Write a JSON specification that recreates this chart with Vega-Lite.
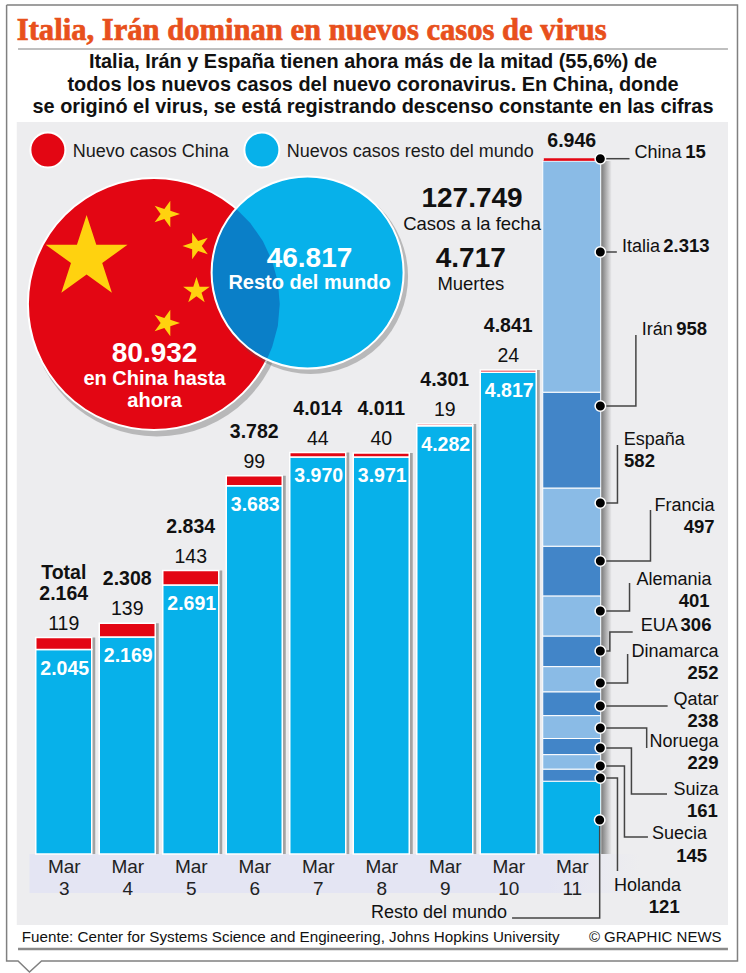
{
"$schema":"https://vega.github.io/schema/vega-lite/v6.json",
"autosize":{"type":"none"},
"width":571.5,"height":700,
"padding":{"left":32,"top":154,"right":142.5,"bottom":119},
"background":"white",
"config":{"view":{"stroke":null},"font":"Liberation Sans","text":{"baseline":"alphabetic"}},
"datasets":{
"barras":[
{"day":3,"serie":"Resto","grupo":"Resto","rank":0,"casos":2045},{"day":3,"serie":"China","grupo":"China","rank":1,"casos":119},
{"day":4,"serie":"Resto","grupo":"Resto","rank":0,"casos":2169},{"day":4,"serie":"China","grupo":"China","rank":1,"casos":139},
{"day":5,"serie":"Resto","grupo":"Resto","rank":0,"casos":2691},{"day":5,"serie":"China","grupo":"China","rank":1,"casos":143},
{"day":6,"serie":"Resto","grupo":"Resto","rank":0,"casos":3683},{"day":6,"serie":"China","grupo":"China","rank":1,"casos":99},
{"day":7,"serie":"Resto","grupo":"Resto","rank":0,"casos":3970},{"day":7,"serie":"China","grupo":"China","rank":1,"casos":44},
{"day":8,"serie":"Resto","grupo":"Resto","rank":0,"casos":3971},{"day":8,"serie":"China","grupo":"China","rank":1,"casos":40},
{"day":9,"serie":"Resto","grupo":"Resto","rank":0,"casos":4282},{"day":9,"serie":"China","grupo":"China","rank":1,"casos":19},
{"day":10,"serie":"Resto","grupo":"Resto","rank":0,"casos":4817},{"day":10,"serie":"China","grupo":"China","rank":1,"casos":24},
{"day":11,"serie":"Resto del mundo","grupo":"Resto","rank":0,"casos":728},
{"day":11,"serie":"Holanda","grupo":"Oscuro","rank":1,"casos":121},
{"day":11,"serie":"Suecia","grupo":"Claro","rank":2,"casos":145},
{"day":11,"serie":"Suiza","grupo":"Oscuro","rank":3,"casos":161},
{"day":11,"serie":"Noruega","grupo":"Claro","rank":4,"casos":229},
{"day":11,"serie":"Qatar","grupo":"Oscuro","rank":5,"casos":238},
{"day":11,"serie":"Dinamarca","grupo":"Claro","rank":6,"casos":252},
{"day":11,"serie":"EUA","grupo":"Oscuro","rank":7,"casos":306},
{"day":11,"serie":"Alemania","grupo":"Claro","rank":8,"casos":401},
{"day":11,"serie":"Francia","grupo":"Oscuro","rank":9,"casos":497},
{"day":11,"serie":"España","grupo":"Claro","rank":10,"casos":582},
{"day":11,"serie":"Irán","grupo":"Oscuro","rank":11,"casos":958},
{"day":11,"serie":"Italia","grupo":"Claro","rank":12,"casos":2313},
{"day":11,"serie":"China","grupo":"China","rank":13,"casos":15}
],
"dias":[
{"day":3,"china":119,"resto":2045,"total":2164,"chinaT":"119","restoT":"2.045","totalT":"2.164"},
{"day":4,"china":139,"resto":2169,"total":2308,"chinaT":"139","restoT":"2.169","totalT":"2.308"},
{"day":5,"china":143,"resto":2691,"total":2834,"chinaT":"143","restoT":"2.691","totalT":"2.834"},
{"day":6,"china":99,"resto":3683,"total":3782,"chinaT":"99","restoT":"3.683","totalT":"3.782"},
{"day":7,"china":44,"resto":3970,"total":4014,"chinaT":"44","restoT":"3.970","totalT":"4.014"},
{"day":8,"china":40,"resto":3971,"total":4011,"chinaT":"40","restoT":"3.971","totalT":"4.011"},
{"day":9,"china":19,"resto":4282,"total":4301,"chinaT":"19","restoT":"4.282","totalT":"4.301"},
{"day":10,"china":24,"resto":4817,"total":4841,"chinaT":"24","restoT":"4.817","totalT":"4.841"}
],
"conectores":[
{"pais":"China","seq":0,"day":11.46,"value":6953},{"pais":"China","seq":1,"day":11.91,"value":6953},
{"pais":"Italia","seq":0,"day":11.46,"value":6020},{"pais":"Italia","seq":1,"day":11.71,"value":6020},
{"pais":"Irán","seq":0,"day":11.46,"value":4480},{"pais":"Irán","seq":1,"day":12.01,"value":4480},{"pais":"Irán","seq":2,"day":12.01,"value":5190},
{"pais":"España","seq":0,"day":11.46,"value":3510},{"pais":"España","seq":1,"day":11.72,"value":3510},{"pais":"España","seq":2,"day":11.72,"value":4090},
{"pais":"Francia","seq":0,"day":11.46,"value":2930},{"pais":"Francia","seq":1,"day":12.24,"value":2930},{"pais":"Francia","seq":2,"day":12.24,"value":3440},
{"pais":"Alemania","seq":0,"day":11.46,"value":2430},{"pais":"Alemania","seq":1,"day":11.91,"value":2430},{"pais":"Alemania","seq":2,"day":11.91,"value":2710},
{"pais":"EUA","seq":0,"day":11.46,"value":2030},{"pais":"EUA","seq":1,"day":11.6,"value":2030},{"pais":"EUA","seq":2,"day":11.6,"value":2220},{"pais":"EUA","seq":3,"day":11.96,"value":2220},
{"pais":"Dinamarca","seq":0,"day":11.46,"value":1710},{"pais":"Dinamarca","seq":1,"day":11.88,"value":1710},{"pais":"Dinamarca","seq":2,"day":11.88,"value":2000},
{"pais":"Qatar","seq":0,"day":11.46,"value":1480},{"pais":"Qatar","seq":1,"day":12.51,"value":1480},
{"pais":"Noruega","seq":0,"day":11.46,"value":1260},{"pais":"Noruega","seq":1,"day":12.18,"value":1260},{"pais":"Noruega","seq":2,"day":12.18,"value":1060},
{"pais":"Suiza","seq":0,"day":11.46,"value":1060},{"pais":"Suiza","seq":1,"day":11.94,"value":1060},{"pais":"Suiza","seq":2,"day":11.94,"value":600},{"pais":"Suiza","seq":3,"day":12.5,"value":600},
{"pais":"Suecia","seq":0,"day":11.46,"value":880},{"pais":"Suecia","seq":1,"day":11.83,"value":880},{"pais":"Suecia","seq":2,"day":11.83,"value":170},{"pais":"Suecia","seq":3,"day":12.2,"value":170},
{"pais":"Holanda","seq":0,"day":11.46,"value":760},{"pais":"Holanda","seq":1,"day":11.72,"value":760},{"pais":"Holanda","seq":2,"day":11.72,"value":-170},
{"pais":"Resto","seq":0,"day":11.44,"value":340},{"pais":"Resto","seq":1,"day":11.44,"value":-640},{"pais":"Resto","seq":2,"day":10.06,"value":-640}
],
"puntos":[
{"pais":"China","day":11.45,"value":6953},{"pais":"Italia","day":11.45,"value":6020},{"pais":"Irán","day":11.45,"value":4480},{"pais":"España","day":11.45,"value":3510},{"pais":"Francia","day":11.45,"value":2930},{"pais":"Alemania","day":11.45,"value":2430},{"pais":"EUA","day":11.45,"value":2030},{"pais":"Dinamarca","day":11.45,"value":1710},{"pais":"Qatar","day":11.45,"value":1480},{"pais":"Noruega","day":11.45,"value":1260},{"pais":"Suiza","day":11.45,"value":1060},{"pais":"Suecia","day":11.45,"value":880},{"pais":"Holanda","day":11.45,"value":760},{"pais":"Resto","day":11.44,"value":340}
],
"nombres":[
{"t":"China","day":12.73,"value":6960},{"t":"Italia","day":12.39,"value":6020},{"t":"Irán","day":12.59,"value":5190},{"t":"España","day":12.78,"value":4090},{"t":"Francia","day":13.25,"value":3430},{"t":"Alemania","day":13.2,"value":2690},{"t":"EUA","day":12.67,"value":2230},{"t":"Dinamarca","day":13.31,"value":1970},{"t":"Qatar","day":13.31,"value":1490},{"t":"Noruega","day":13.31,"value":1070},{"t":"Suiza","day":13.31,"value":590},{"t":"Suecia","day":13.13,"value":150},{"t":"Holanda","day":12.72,"value":-370},{"t":"Resto del mundo","day":9.98,"value":-640}
],
"cifras":[
{"t":"15","day":13.11,"value":6960},{"t":"2.313","day":13.17,"value":6020},{"t":"958","day":13.13,"value":5190},{"t":"582","day":12.31,"value":3870},{"t":"497","day":13.25,"value":3210},{"t":"401","day":13.17,"value":2470},{"t":"306","day":13.2,"value":2230},{"t":"252","day":13.31,"value":1750},{"t":"238","day":13.31,"value":1270},{"t":"229","day":13.31,"value":850},{"t":"161","day":13.3,"value":370},{"t":"145","day":13.13,"value":-80},{"t":"121","day":12.7,"value":-590}
]
},
"encoding":{
"x":{"field":"day","type":"quantitative","title":null,"scale":{"domain":[2.5,11.5],"nice":false,"zero":false,"padding":0},
"axis":{"values":[3,4,5,6,7,8,9,10,11],"labelExpr":"['Mar', datum.value]","domain":false,"ticks":false,"grid":false,"labelFontSize":19,"labelColor":"#222","labelPadding":3,"labelLineHeight":22,"labelOverlap":false,"labelBound":false,"labelFlush":false,"zindex":1,"labelFont":"Liberation Sans"}},
"y":{"field":"value","type":"quantitative","title":null,"scale":{"domain":[0,7000],"nice":false,"zero":false,"padding":0},"axis":null}
},
"layer":[
{"data":{"values":[{"pieza":"panel","day":2.26,"day2":13.46,"value":7320,"value2":-710}]},"mark":{"type":"rect","color":"#ededef"},"encoding":{"x2":{"field":"day2"},"y2":{"field":"value2"}}},
{"data":{"values":[{"pieza":"banda","day":2.46,"day2":12.07,"value":0,"value2":-390}]},"mark":{"type":"rect","color":{"gradient":"linear","x1":0,"x2":1,"y1":0,"y2":0,"stops":[{"offset":0,"color":"#e4e5f3"},{"offset":0.85,"color":"#e4e5f3"},{"offset":1,"color":"#ededef"}]}},"encoding":{"x2":{"field":"day2"},"y2":{"field":"value2"}}},
{"data":{"values":[{"s":"marco","seq":0,"day":2.1,"value":8490},{"s":"marco","seq":1,"day":13.61,"value":8490},{"s":"marco","seq":2,"day":13.61,"value":-1070},{"s":"marco","seq":3,"day":2.65,"value":-1070},{"s":"marco","seq":4,"day":2.46,"value":-1180},{"s":"marco","seq":5,"day":2.28,"value":-1070},{"s":"marco","seq":6,"day":2.1,"value":-1070},{"s":"marco","seq":7,"day":2.1,"value":8490}]},"mark":{"type":"line","color":"#808080","strokeWidth":1.5},"encoding":{"order":{"field":"seq"}}},
{"data":{"values":[{"day":2.28,"day2":13.46,"value":8050}]},"mark":{"type":"rule","color":"#aaaaaa","strokeWidth":1.5},"encoding":{"x2":{"field":"day2"}}},
{"data":{"values":[{"day":2.28,"day2":13.46,"value":-950}]},"mark":{"type":"rule","color":"#8a8a8a","strokeWidth":2.5},"encoding":{"x2":{"field":"day2"}}},
{"data":{"values":[{"day":2.5},{"day":3.5},{"day":4.5},{"day":5.5},{"day":6.5},{"day":7.5},{"day":8.5},{"day":9.5},{"day":10.5}]},"mark":{"type":"rule","color":"#666666","strokeWidth":1},"encoding":{"y":{"datum":0,"type":"quantitative"},"y2":{"datum":-390}}},
{"data":{"name":"dias"},"mark":{"type":"bar","orient":"vertical","width":56,"color":"#a3a3a3","xOffset":3.5},"encoding":{"y":{"field":"total","type":"quantitative","axis":null,"title":null}}},
{"data":{"values":[{"day":11.46,"day2":11.63,"value":6930,"value2":0}]},"mark":{"type":"rect","color":{"gradient":"linear","x1":0,"x2":1,"y1":0,"y2":0,"stops":[{"offset":0,"color":"#777777"},{"offset":1,"color":"#ededef"}]}},"encoding":{"x2":{"field":"day2"},"y2":{"field":"value2"}}},
{"data":{"name":"barras"},"transform":[{"stack":"casos","groupby":["day"],"sort":[{"field":"rank","order":"ascending"}],"as":["v0","v1"]},{"filter":"datum.day<11"}],"mark":{"type":"bar","orient":"vertical","width":56,"stroke":"white","strokeWidth":1.5},"encoding":{"y":{"field":"v0","type":"quantitative","axis":null,"title":null},"y2":{"field":"v1"},"color":{"field":"grupo","type":"nominal","legend":null,"scale":{"domain":["China","Resto","Claro","Oscuro"],"range":["#e30613","#07b1ea","#8abbe6","#4285c8"]}}}},
{"data":{"name":"barras"},"transform":[{"stack":"casos","groupby":["day"],"sort":[{"field":"rank","order":"ascending"}],"as":["v0","v1"]},{"filter":"datum.day==11"}],"mark":{"type":"bar","orient":"vertical","width":58,"stroke":"white","strokeWidth":1},"encoding":{"y":{"field":"v0","type":"quantitative","axis":null,"title":null},"y2":{"field":"v1"},"color":{"field":"grupo","type":"nominal","legend":null,"scale":{"domain":["China","Resto","Claro","Oscuro"],"range":["#e30613","#07b1ea","#8abbe6","#4285c8"]}}}},
{"data":{"name":"barras"},"transform":[{"stack":"casos","groupby":["day"],"sort":[{"field":"rank","order":"ascending"}],"as":["v0","v1"]},{"filter":"datum.day==11 && datum.serie=='China'"}],"mark":{"type":"rule","color":"#e30613","strokeWidth":2.5},"encoding":{"x":{"datum":10.56,"type":"quantitative"},"x2":{"datum":11.44},"y":{"field":"v1","type":"quantitative","axis":null,"title":null}}},
{"data":{"values":[{"c":"rojo","day":4.42,"value":5500}]},"mark":{"type":"point","filled":true,"size":65000,"color":"#777777","opacity":0.45,"strokeWidth":0,"xOffset":3,"yOffset":5}},
{"data":{"values":[{"c":"rojo","day":4.42,"value":5500}]},"mark":{"type":"point","filled":true,"size":63504,"color":"#e30613","opacity":1,"stroke":"white","strokeWidth":2}},
{"data":{"values":[{"e":"grande","day":3.36,"value":5960}]},"mark":{"type":"point","filled":true,"opacity":1,"size":7400,"color":"#ffd20f","strokeWidth":0,"shape":"M0,-1L0.225,-0.309L0.951,-0.309L0.363,0.118L0.588,0.809L0,0.382L-0.588,0.809L-0.363,0.118L-0.951,-0.309L-0.225,-0.309Z"}},
{"data":{"values":[{"e":"a","day":4.61,"value":6400},{"e":"d","day":4.61,"value":5310}]},"mark":{"type":"point","filled":true,"opacity":1,"size":784,"angle":18,"color":"#ffd20f","strokeWidth":0,"shape":"M0,-1L0.225,-0.309L0.951,-0.309L0.363,0.118L0.588,0.809L0,0.382L-0.588,0.809L-0.363,0.118L-0.951,-0.309L-0.225,-0.309Z"}},
{"data":{"values":[{"e":"b","day":5.09,"value":6080}]},"mark":{"type":"point","filled":true,"opacity":1,"size":784,"angle":-18,"color":"#ffd20f","strokeWidth":0,"shape":"M0,-1L0.225,-0.309L0.951,-0.309L0.363,0.118L0.588,0.809L0,0.382L-0.588,0.809L-0.363,0.118L-0.951,-0.309L-0.225,-0.309Z"}},
{"data":{"values":[{"e":"c","day":5.09,"value":5630}]},"mark":{"type":"point","filled":true,"opacity":1,"size":784,"color":"#ffd20f","strokeWidth":0,"shape":"M0,-1L0.225,-0.309L0.951,-0.309L0.363,0.118L0.588,0.809L0,0.382L-0.588,0.809L-0.363,0.118L-0.951,-0.309L-0.225,-0.309Z"}},
{"data":{"values":[{"c":"azul","day":6.84,"value":5815}]},"mark":{"type":"point","filled":true,"size":38000,"color":"#555555","opacity":0.35,"strokeWidth":0,"xOffset":3,"yOffset":4}},
{"data":{"values":[{"c":"azul","day":6.84,"value":5815}]},"mark":{"type":"point","filled":true,"size":36864,"color":"#07b1ea","opacity":1,"strokeWidth":0}},
{"data":{"values":[{"c":"cruce","day":5.866,"value":5700}]},"mark":{"type":"point","filled":true,"size":40000,"color":"#0a7fc8","opacity":1,"strokeWidth":0,"shape":"M-0.096,-0.753L0.045,-0.61L0.171,-0.43L0.264,-0.231L0.321,-0.019L0.34,0.2L0.321,0.419L0.264,0.631L0.212,0.753L0.003,0.62L-0.166,0.436L-0.282,0.213L-0.336,-0.031L-0.325,-0.282L-0.25,-0.521Z"}},
{"data":{"values":[{"c":"azul","day":6.84,"value":5815}]},"mark":{"type":"point","filled":false,"size":36864,"stroke":"white","opacity":1,"strokeWidth":2}},
{"data":{"values":[{"c":"China","day":2.75,"value":7040}]},"mark":{"type":"point","filled":true,"size":1225,"color":"#e30613","opacity":1,"stroke":"white","strokeWidth":2}},
{"data":{"values":[{"c":"Resto","day":6.12,"value":7040}]},"mark":{"type":"point","filled":true,"size":1225,"color":"#07b1ea","opacity":1,"stroke":"white","strokeWidth":2}},
{"data":{"values":[{"t":"Nuevo casos China","day":3.14,"value":6970},{"t":"Nuevos casos resto del mundo","day":6.51,"value":6970}]},"mark":{"type":"text","align":"left","baseline":"alphabetic","fontSize":18,"color":"#1a1a1a"},"encoding":{"text":{"field":"t"}}},
{"data":{"name":"conectores"},"mark":{"type":"line","color":"#444444","strokeWidth":1.5},"encoding":{"detail":{"field":"pais"},"order":{"field":"seq"}}},
{"data":{"name":"puntos"},"mark":{"type":"point","filled":true,"size":110,"color":"#000000","opacity":1,"stroke":"white","strokeWidth":1.5}},
{"data":{"values":[{"t":"Italia, Irán dominan en nuevos casos de virus","day":2.26,"value":8140}]},"mark":{"type":"text","align":"left","baseline":"alphabetic","font":"Liberation Serif","fontWeight":"bold","fontSize":30.6,"color":"#e8501c","stroke":"#e8501c","strokeWidth":0.7},"encoding":{"text":{"field":"t"}}},
{"data":{"values":[{"t":"Italia, Irán y España tienen ahora más de la mitad (55,6%) de","day":7.87,"value":7860},{"t":"todos los nuevos casos del nuevo coronavirus. En China, donde","day":7.87,"value":7630},{"t":"se originó el virus, se está registrando descenso constante en las cifras","day":7.87,"value":7410}]},"mark":{"type":"text","align":"center","baseline":"alphabetic","fontWeight":"bold","fontSize":19.9,"color":"#111111"},"encoding":{"text":{"field":"t"}}},
{"data":{"name":"dias"},"mark":{"type":"text","fontWeight":"bold","fontSize":19.5,"color":"#111111","align":"center","dy":-38,"baseline":"alphabetic"},"encoding":{"y":{"field":"total","type":"quantitative","axis":null,"title":null},"text":{"field":"totalT"}}},
{"data":{"values":[{"t":"Total","day":3,"total":2164}]},"mark":{"type":"text","fontWeight":"bold","fontSize":19.5,"color":"#111111","align":"center","baseline":"alphabetic","dy":-59},"encoding":{"y":{"field":"total","type":"quantitative","axis":null,"title":null},"text":{"field":"t"}}},
{"data":{"values":[{"t":"6.946","day":11,"total":6946}]},"mark":{"type":"text","fontWeight":"bold","fontSize":19.5,"color":"#111111","align":"center","baseline":"alphabetic","dy":-12},"encoding":{"y":{"field":"total","type":"quantitative","axis":null,"title":null},"text":{"field":"t"}}},
{"data":{"name":"dias"},"mark":{"type":"text","fontSize":19.5,"color":"#111111","align":"center","dy":-8,"baseline":"alphabetic"},"encoding":{"y":{"field":"total","type":"quantitative","axis":null,"title":null},"text":{"field":"chinaT"}}},
{"data":{"name":"dias"},"mark":{"type":"text","fontWeight":"bold","fontSize":19.5,"color":"white","align":"center","dy":25,"dx":1,"baseline":"alphabetic"},"encoding":{"y":{"field":"resto","type":"quantitative","axis":null,"title":null},"text":{"field":"restoT"}}},
{"data":{"values":[{"t":"80.932","day":4.43,"value":4920},{"t":"46.817","day":6.87,"value":5870}]},"mark":{"type":"text","baseline":"alphabetic","fontWeight":"bold","fontSize":28,"color":"white","align":"center"},"encoding":{"text":{"field":"t"}}},
{"data":{"values":[{"t":"en China hasta","day":4.43,"value":4690},{"t":"ahora","day":4.43,"value":4470},{"t":"Resto del mundo","day":6.87,"value":5650}]},"mark":{"type":"text","baseline":"alphabetic","fontWeight":"bold","fontSize":20,"color":"white","align":"center"},"encoding":{"text":{"field":"t"}}},
{"data":{"values":[{"t":"127.749","day":9.43,"value":6470},{"t":"4.717","day":9.41,"value":5870}]},"mark":{"type":"text","baseline":"alphabetic","fontWeight":"bold","fontSize":28,"color":"#111111","align":"center"},"encoding":{"text":{"field":"t"}}},
{"data":{"values":[{"t":"Casos a la fecha","day":9.43,"value":6240},{"t":"Muertes","day":9.41,"value":5640}]},"mark":{"type":"text","baseline":"alphabetic","fontSize":18.5,"color":"#111111","align":"center"},"encoding":{"text":{"field":"t"}}},
{"data":{"name":"nombres"},"mark":{"type":"text","baseline":"alphabetic","align":"right","fontSize":18,"color":"#111111"},"encoding":{"text":{"field":"t"}}},
{"data":{"name":"cifras"},"mark":{"type":"text","baseline":"alphabetic","align":"right","fontWeight":"bold","fontSize":18.5,"color":"#111111"},"encoding":{"text":{"field":"t"}}},
{"data":{"values":[{"t":"Fuente: Center for Systems Science and Engineering, Johns Hopkins University","day":2.34,"value":-880}]},"mark":{"type":"text","baseline":"alphabetic","align":"left","fontSize":15.2,"color":"#111111"},"encoding":{"text":{"field":"t"}}},
{"data":{"values":[{"t":"© GRAPHIC NEWS","day":13.36,"value":-880}]},"mark":{"type":"text","baseline":"alphabetic","align":"right","fontSize":15,"color":"#111111"},"encoding":{"text":{"field":"t"}}}
]
}
